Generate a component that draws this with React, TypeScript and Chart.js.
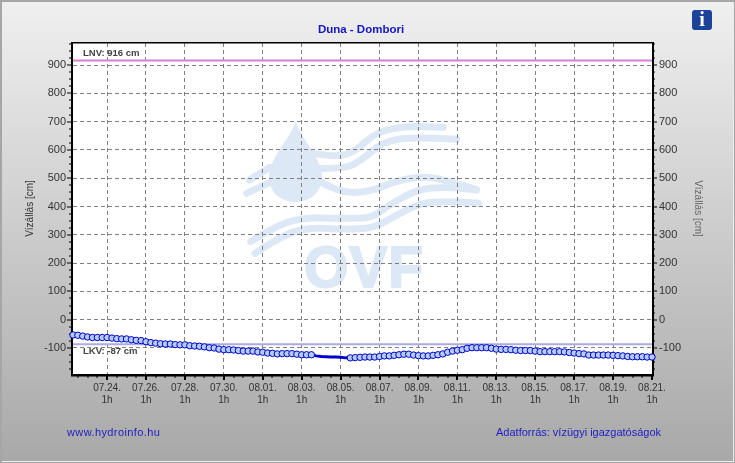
import React, { useEffect, useRef } from "react";
import { Chart, registerables } from "chart.js";

Chart.register(...registerables);

const chartTitle = "Duna - Dombori";
const axisTitle = "Vízállás [cm]";
const lnvLevel = 916;
const lkvLevel = -87;
const lnvLabel = "LNV: 916 cm";
const lkvLabel = "LKV: -87 cm";
const siteLink = "www.hydroinfo.hu";
const sourceNote = "Adatforrás: vízügyi igazgatóságok";
const dateLabels = ["07.24.", "07.26.", "07.28.", "07.30.", "08.01.", "08.03.", "08.05.", "08.07.", "08.09.", "08.11.", "08.13.", "08.15.", "08.17.", "08.19.", "08.21."];
const hourLabel = "1h";

// hours relative to 07.24. 1h
const sampleHours = [
  -42, -36, -30, -24, -18, -12, -6, 0, 6, 12, 18, 24, 30, 36, 42, 48, 54, 60, 66, 72,
  78, 84, 90, 96, 102, 108, 114, 120, 126, 132, 138, 144, 150, 156, 162, 168, 174, 180, 186, 192,
  198, 204, 210, 216, 222, 228, 234, 240, 246, 252, 258, 264, 270, 276, 282, 288, 294, 300, 306, 312,
  318, 324, 330, 336, 342, 348, 354, 360, 366, 372, 378, 384, 390, 396, 402, 408, 414, 420, 426, 432,
  438, 444, 450, 456, 462, 468, 474, 480, 486, 492, 498, 504, 510, 516, 522, 528, 534, 540, 546, 552,
  558, 564, 570, 576, 582, 588, 594, 600, 606, 612, 618, 624, 630, 636, 642, 648, 654, 660, 666, 672,
];
const waterLevels = [
  -54, -55, -58, -61, -63, -63, -63, -63, -65, -67, -68, -68, -71, -73, -74, -78, -81, -83, -85, -86,
  -86, -88, -89, -89, -92, -93, -94, -96, -99, -100, -104, -106, -106, -107, -109, -111, -111, -111, -114, -115,
  -118, -119, -121, -120, -120, -120, -122, -124, -124, -124, -128, -130, -131, -132, -132, -133, -135, -135, -134, -133,
  -132, -132, -132, -130, -128, -128, -126, -124, -122, -122, -125, -127, -128, -128, -126, -124, -121, -115, -111, -108,
  -106, -101, -99, -99, -99, -99, -101, -104, -105, -105, -106, -108, -109, -109, -109, -111, -113, -113, -113, -113,
  -113, -114, -116, -118, -120, -121, -125, -125, -125, -125, -125, -126, -127, -128, -130, -131, -131, -131, -132, -132,
];
// samples drawn as plain line, without a marker
const unmarkedHours = [258, 264, 270, 276, 282, 288, 294];

const X_MIN = -42;
const X_MAX = 672;
const Y_MIN = -192;
const Y_MAX = 978;
const LOGO = "#dce8f5";

function smooth(ctx: CanvasRenderingContext2D, pts: number[][]) {
  const p = pts.map(([x, y]) => [230 + x / 3, 110 + y / 3]);
  ctx.beginPath();
  ctx.moveTo(p[0][0], p[0][1]);
  for (let i = 1; i < p.length - 1; i++) {
    const mx = (p[i][0] + p[i + 1][0]) / 2;
    const my = (p[i][1] + p[i + 1][1]) / 2;
    ctx.quadraticCurveTo(p[i][0], p[i][1], mx, my);
  }
  const last = p[p.length - 1];
  ctx.lineTo(last[0], last[1]);
  ctx.stroke();
}

function drawLogo(ctx: CanvasRenderingContext2D) {
  ctx.save();
  ctx.fillStyle = LOGO;
  ctx.strokeStyle = LOGO;
  ctx.lineWidth = 7;
  ctx.lineCap = "round";
  ctx.lineJoin = "round";
  const waves = [
    [[58, 210], [120, 172]],
    [[50, 250], [120, 217]],
    [[250, 130], [320, 142], [375, 125], [440, 65], [530, 48], [640, 52]],
    [[260, 175], [345, 177], [395, 150], [460, 95], [540, 82], [680, 88]],
    [[265, 212], [330, 250], [420, 245], [500, 212], [590, 198], [660, 215], [738, 238]],
    [[62, 395], [130, 352], [210, 323], [330, 325], [425, 325], [470, 290], [560, 238], [650, 230], [740, 240]],
    [[75, 430], [150, 380], [230, 353], [340, 358], [430, 355], [500, 315], [570, 280], [650, 274], [745, 280]],
  ];
  waves.forEach((w) => smooth(ctx, w));
  ctx.beginPath();
  ctx.moveTo(295.7, 121);
  ctx.bezierCurveTo(291, 138, 269, 158, 269, 177);
  ctx.bezierCurveTo(269, 192, 281, 202, 295.7, 202);
  ctx.bezierCurveTo(310, 202, 322, 192, 322, 177);
  ctx.bezierCurveTo(322, 158, 300, 138, 295.7, 121);
  ctx.fill();
  ctx.font = 'bold 57px "Liberation Sans"';
  ctx.textAlign = "left";
  ctx.textBaseline = "alphabetic";
  ctx.lineWidth = 2;
  ctx.letterSpacing = "1px";
  ctx.strokeText("OVF", 304, 287);
  ctx.fillText("OVF", 304, 287);
  ctx.restore();
}

const decorPlugin = {
  id: "decor",
  beforeDraw(chart: any) {
    const { ctx, width, height, chartArea: a } = chart;
    ctx.save();
    const g = ctx.createLinearGradient(0, 0, 0, height);
    g.addColorStop(0, "#f0f0f0");
    g.addColorStop(1, "#a8a8a8");
    ctx.fillStyle = g;
    ctx.fillRect(0, 0, width, height);
    ctx.fillStyle = "#a6a6a6";
    ctx.fillRect(0, 0, width, 2);
    ctx.fillRect(0, 0, 2, height);
    ctx.fillRect(width - 1, 0, 1, height);
    ctx.fillRect(0, height - 1, width, 1);
    ctx.fillStyle = "#ececec";
    ctx.fillRect(width - 2, 2, 1, height - 3);
    ctx.fillRect(2, height - 2, width - 3, 1);
    ctx.fillStyle = "#ffffff";
    ctx.fillRect(a.left, a.top, a.right - a.left, a.bottom - a.top);
    drawLogo(ctx);

    // title and footer notes
    ctx.textBaseline = "middle";
    ctx.textAlign = "center";
    ctx.font = 'bold 11.5px "Liberation Sans"';
    ctx.fillStyle = "#1414c8";
    ctx.fillText(chartTitle, 361, 30);
    ctx.font = '11px "Liberation Sans"';
    ctx.fillStyle = "#1c1cc4";
    ctx.textAlign = "left";
    ctx.letterSpacing = "0.4px";
    ctx.fillText(siteLink, 67, 433);
    ctx.letterSpacing = "0px";
    ctx.fillText(sourceNote, 496, 433);

    // info button
    ctx.fillStyle = "#1c4398";
    ctx.beginPath();
    ctx.roundRect(692, 10, 20, 20, 3);
    ctx.fill();
    ctx.fillStyle = "#ffffff";
    ctx.textAlign = "center";
    ctx.font = 'bold 20px "Liberation Serif"';
    ctx.fillText("i", 702, 20.5);
    ctx.restore();
  },
  beforeDatasetsDraw(chart: any) {
    const { ctx, chartArea: a, scales } = chart;
    ctx.save();
    ctx.fillStyle = "#000000";
    scales.x.ticks.forEach((t: any) => {
      const px = Math.round(scales.x.getPixelForValue(t.value));
      const major = t.value % 48 === 0;
      ctx.fillRect(px - (major ? 1 : 0.5), a.bottom, major ? 2 : 1, major ? 6 : 4);
    });
    scales.yLeft.ticks.forEach((t: any) => {
      const py = Math.round(scales.yLeft.getPixelForValue(t.value));
      const major = t.value % 100 === 0;
      ctx.fillRect(a.left - (major ? 6 : 4), py - 0.5, major ? 6 : 4, 1);
      ctx.fillRect(a.right, py - 0.5, major ? 5 : 3, 1);
    });
    ctx.fillRect(a.left - 2, a.top - 1, 2, a.bottom - a.top + 3);
    ctx.fillRect(a.right, a.top - 1, 2, a.bottom - a.top + 3);
    ctx.fillRect(a.left - 2, a.top - 1, a.right - a.left + 4, 1.5);
    ctx.fillRect(a.left - 2, a.bottom, a.right - a.left + 4, 2.5);

    ctx.font = 'bold 9.5px "Liberation Sans"';
    ctx.fillStyle = "#444444";
    ctx.textAlign = "left";
    ctx.textBaseline = "middle";
    ctx.fillText(lnvLabel, 83, scales.yLeft.getPixelForValue(lnvLevel) - 7);
    ctx.fillText(lkvLabel, 83, scales.yLeft.getPixelForValue(lkvLevel) + 7);
    ctx.restore();
  },
};

export default function App() {
  const ref = useRef<HTMLCanvasElement>(null);
  useEffect(() => {
    document.body.style.margin = "0";
    const yTicks = (v: any) => (Number(v) % 100 === 0 ? String(v) : "");
    const chart = new Chart(ref.current as HTMLCanvasElement, {
      type: "line",
      plugins: [decorPlugin],
      data: {
        datasets: [
          {
            label: "Vízállás",
            order: 0,
            data: sampleHours.map((x, i) => ({ x, y: waterLevels[i] })),
            borderColor: "#0000cc",
            borderWidth: 1,
            segment: {
              borderWidth: (c: any) => (unmarkedHours.includes(sampleHours[c.p0DataIndex]) || unmarkedHours.includes(sampleHours[c.p1DataIndex]) ? 3 : 1),
            },
            backgroundColor: "#b4ccf8",
            pointBackgroundColor: "#b4ccf8",
            pointBorderColor: "#0000c8",
            pointBorderWidth: 1,
            pointRadius: (c: any) => (unmarkedHours.includes(sampleHours[c.dataIndex]) ? 0 : 3.2),
            clip: false,
            yAxisID: "yLeft",
          } as any,
          {
            label: "LNV",
            order: 1,
            data: [{ x: X_MIN, y: lnvLevel }, { x: X_MAX, y: lnvLevel }],
            borderColor: "#d67fd6",
            borderWidth: 2,
            pointRadius: 0,
            yAxisID: "yLeft",
          },
          {
            label: "LKV",
            order: 1,
            data: [{ x: X_MIN, y: lkvLevel }, { x: X_MAX, y: lkvLevel }],
            borderColor: "#aaaae8",
            borderWidth: 2,
            pointRadius: 0,
            yAxisID: "yLeft",
          },
        ],
      },
      options: {
        responsive: false,
        animation: false,
        devicePixelRatio: 1,
        layout: { padding: { top: 43, left: 0, right: 0, bottom: 0 } },
        plugins: { legend: { display: false }, tooltip: { enabled: false }, title: { display: false } },
        scales: {
          x: {
            type: "linear",
            min: X_MIN,
            max: X_MAX,
            afterFit: (s: any) => { s.height = 89; },
            border: { display: false, dash: [4, 3] },
            grid: {
              drawTicks: false,
              color: (c: any) => (c.tick && c.tick.value % 48 === 0 ? "#808080" : "transparent"),
            },
            ticks: {
              stepSize: 12,
              includeBounds: false,
              autoSkip: false,
              maxRotation: 0,
              minRotation: 0,
              padding: 8,
              color: "#333333",
              font: { family: "Liberation Sans", size: 10, lineHeight: 1.2 },
              callback: (v: any) => (Number(v) % 48 === 0 ? [dateLabels[Number(v) / 48], hourLabel] : ""),
            },
          },
          yLeft: {
            type: "linear",
            position: "left",
            min: Y_MIN,
            max: Y_MAX,
            afterFit: (s: any) => { s.width = 73; },
            border: { display: false, dash: [4, 3] },
            grid: {
              drawTicks: false,
              color: (c: any) => (c.tick && c.tick.value % 100 === 0 ? "#808080" : "transparent"),
            },
            ticks: {
              stepSize: 25,
              includeBounds: false,
              autoSkip: false,
              padding: 7,
              color: "#333333",
              font: { family: "Liberation Sans", size: 11 },
              callback: yTicks,
            },
            title: {
              display: true,
              text: axisTitle,
              color: "#333333",
              font: { family: "Liberation Sans", size: 10 },
              padding: { top: 24, bottom: 0 },
            },
          },
          yRight: {
            type: "linear",
            position: "right",
            min: Y_MIN,
            max: Y_MAX,
            afterFit: (s: any) => { s.width = 83; },
            border: { display: false },
            grid: { display: false, drawTicks: false },
            ticks: {
              stepSize: 25,
              includeBounds: false,
              autoSkip: false,
              padding: 7,
              color: "#333333",
              font: { family: "Liberation Sans", size: 11 },
              callback: yTicks,
            },
            title: {
              display: true,
              text: axisTitle,
              color: "#666666",
              font: { family: "Liberation Sans", size: 10 },
              padding: { top: 31, bottom: 0 },
            },
          },
        },
      } as any,
    });
    return () => chart.destroy();
  }, []);
  return (
    <div style={{ position: "absolute", left: 0, top: 0, width: 735, height: 463 }}>
      <canvas ref={ref} width={735} height={463} style={{ display: "block" }} />
    </div>
  );
}
